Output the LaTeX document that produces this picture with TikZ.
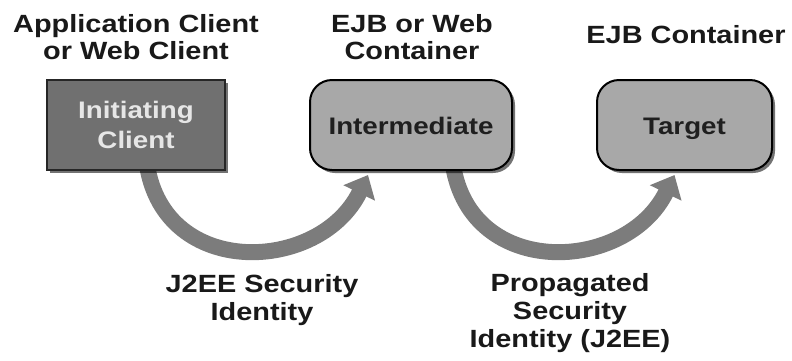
\documentclass[tikz,border=0pt]{standalone}
\usepackage{fontspec}
\setmainfont[FakeStretch=1.16]{Liberation Sans}
\usetikzlibrary{arrows.meta,shadows,calc}
\definecolor{darkbox}{HTML}{707070}
\definecolor{lightbox}{HTML}{A8A8A8}
\definecolor{arrowgray}{HTML}{7C7C7C}
\definecolor{boxtext}{HTML}{E6E6E6}
\tikzset{
  hdr/.style={font=\bfseries\fontsize{25}{27}\selectfont, align=center, text=black!90},
  lbl/.style={font=\bfseries\fontsize{25}{28.5}\selectfont, align=center, text=black!90},
  boxshadow/.style={drop shadow={shadow xshift=3bp, shadow yshift=-3bp, fill=black, opacity=0.55}},
  initbox/.style={rectangle, draw=black!85, line width=1.5bp, fill=darkbox, boxshadow,
    minimum width=178bp, minimum height=90bp, inner sep=0pt,
    font=\bfseries\fontsize{24}{31}\selectfont, text=boxtext, align=center},
  roundbox/.style={rectangle, rounded corners=22bp, draw=black, line width=2bp, fill=lightbox, boxshadow,
    minimum height=90bp, inner sep=0pt, text height=18bp, text depth=0bp,
    font=\bfseries\fontsize{24}{30}\selectfont, text=black!88, align=center},
  flow/.style={draw=arrowgray, line width=16bp, -{Triangle[width=34bp,length=20bp]}}
}
\begin{document}
\begin{tikzpicture}[x=1bp,y=-1bp]
\useasboundingbox (0,0) rectangle (792,360);
\path (136,125) coordinate (icc) (411,125) coordinate (imc) (684.5,125) coordinate (tgc);
% arrows (drawn first so that they start beneath the boxes)
\coordinate (a1s) at ($(icc)+(11,40)$);
\coordinate (a1e) at ($(imc)+(-43,50)$);
\coordinate (a2s) at ($(imc)+(42,40)$);
\coordinate (a2e) at ($(tgc)+(-10,50)$);
\draw[flow] (a1s) .. controls +(18,115) and +(-48,98) .. (a1e);
\draw[flow] (a2s) .. controls +(18,115) and +(-48,98) .. (a2e);
% boxes
\node[initbox] (ic) at (icc) {Initiating\\Client};
\node[roundbox, minimum width=202bp] (im) at (imc) {Intermediate};
\node[roundbox, minimum width=175bp] (tg) at (tgc) {Target};
% headers
\node[hdr] (h1) at (136,37) {Application Client\\or Web Client};
\node[hdr] (h2) at (412,37) {EJB or Web\\Container};
\node[hdr] (h3) at (686,35) {EJB Container};
% labels
\node[lbl] (l1) at (262,300) {J2EE Security\\Identity};
\node[lbl] (l2) at (570,313) {Propagated\\Security\\Identity (J2EE)};
\end{tikzpicture}
\end{document}
